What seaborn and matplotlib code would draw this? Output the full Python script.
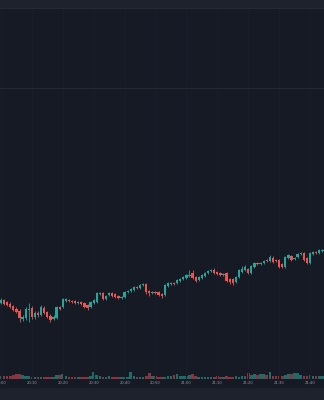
import numpy as np
import pandas as pd
import matplotlib
matplotlib.use("Agg")
import matplotlib.pyplot as plt
import seaborn as sns

# ---- data (1-minute candles from 20:00) ----
open_ = [1017,1020,1018,1016,1014,1011,1009,1001,1002,1010,
         1012,1003,1007,1005,1012,1008,1004,1001,1002,1013,
         1013,1019,1020,1019,1019,1017,1018,1017,1015,1013,
         1017,1018,1026,1027,1021,1025,1027,1026,1024,1022,
         1023,1028,1029,1030,1033,1032,1035,1036,1029,1027,
         1028,1028,1026,1025,1034,1036,1037,1037,1039,1041,
         1042,1044,1047,1043,1040,1042,1044,1047,1049,1050,
         1048,1047,1045,1047,1041,1041,1038,1043,1048,1050,
         1051,1047,1053,1057,1056,1057,1060,1059,1062,1060,
         1060,1056,1053,1062,1064,1061,1063,1066,1067,1062,
         1057,1066,1068,1067,1069]
close = [1020,1016,1015,1013,1010,1008,1002,1003,1011,1011,
         1003,1007,1005,1013,1007,1003,1000,1003,1013,1011,
         1021,1021,1019,1018,1017,1018,1016,1013,1012,1018,
         1020,1027,1027,1021,1024,1027,1024,1023,1022,1023,
         1028,1029,1031,1033,1032,1035,1036,1028,1027,1028,
         1027,1025,1024,1035,1037,1037,1036,1040,1041,1043,
         1045,1045,1042,1039,1043,1045,1047,1049,1050,1047,
         1046,1045,1046,1039,1038,1037,1043,1050,1051,1053,
         1047,1054,1057,1056,1057,1059,1059,1063,1058,1059,
         1053,1053,1063,1065,1060,1062,1066,1067,1060,1057,
         1067,1068,1067,1070,1070]
high = [1022,1021,1019,1018,1015,1013,1011,1005,1013,1017,
        1014,1009,1009,1015,1014,1009,1006,1005,1014,1014,
        1022,1022,1021,1020,1020,1019,1019,1018,1016,1019,
        1021,1028,1028,1028,1025,1028,1028,1027,1025,1024,
        1029,1030,1032,1034,1034,1036,1037,1037,1030,1029,
        1029,1029,1027,1036,1038,1038,1038,1041,1042,1044,
        1046,1050,1050,1044,1044,1046,1048,1050,1051,1052,
        1049,1048,1047,1048,1042,1042,1044,1051,1054,1055,
        1052,1055,1058,1058,1058,1060,1061,1065,1064,1061,
        1061,1057,1064,1066,1065,1063,1067,1068,1068,1063,
        1068,1069,1069,1071,1071]
low = [1016,1015,1014,1012,1009,1007,998,999,1000,998,
       1001,1001,1003,1004,1006,1002,998,1000,1001,1010,
       1012,1018,1018,1017,1016,1016,1015,1012,1010,1012,
       1016,1017,1025,1020,1020,1024,1023,1022,1021,1021,
       1022,1027,1028,1029,1031,1031,1034,1026,1024,1026,
       1026,1024,1022,1024,1033,1035,1035,1036,1038,1040,
       1041,1043,1041,1038,1039,1041,1043,1046,1048,1046,
       1045,1044,1044,1038,1036,1035,1037,1042,1047,1049,
       1046,1046,1052,1055,1055,1056,1058,1058,1057,1058,
       1052,1052,1052,1061,1059,1060,1062,1065,1059,1056,
       1056,1065,1066,1066,1068]
volume = [30,30,30,30,40,50,50,40,30,30,
          20,20,20,20,20,20,20,20,40,40,
          50,30,20,20,20,20,20,20,20,30,
          70,40,30,20,20,30,20,20,20,20,
          20,20,70,30,20,20,20,30,60,30,
          30,20,20,20,30,30,40,50,30,30,
          30,40,50,30,20,20,20,20,20,20,
          30,20,20,30,20,20,30,20,30,30,
          60,40,50,40,50,50,40,70,30,30,
          30,30,40,50,50,60,60,40,30,30,
          40,30,30,30,30]
tick_minutes = [0, 10, 20, 30, 40, 50, 60, 70, 80, 90, 100]
tick_labels = ["20:00", "20:10", "20:20", "20:30", "20:40", "20:50",
               "21:00", "21:10", "21:20", "21:30", "21:40"]
ref_line = 1232

UP = "#26a69a"
DOWN = "#ef5350"
UP_VOL = "#216a66"
DOWN_VOL = "#8a3440"
BG = "#161a25"
PANEL = "#1e222d"

sns.set_theme(style="dark", rc={"axes.facecolor": BG, "figure.facecolor": PANEL})

df = pd.DataFrame({"minute": np.arange(len(open_)), "open": open_, "close": close,
                   "high": high, "low": low, "volume": volume})
df["dir"] = np.where(df["close"] >= df["open"], "up", "down")
df["body_lo"] = df[["open", "close"]].min(axis=1)
df["body_h"] = (df["close"] - df["open"]).abs().clip(lower=0.9)
colors = df["dir"].map({"up": UP, "down": DOWN})
vcolors = df["dir"].map({"up": UP_VOL, "down": DOWN_VOL})

fig = plt.figure(figsize=(3.24, 4.0), dpi=100)
fig.patch.set_facecolor(PANEL)
bg = plt.Rectangle((0, 13 / 400), 1, 387 / 400, transform=fig.transFigure,
                   color=BG, zorder=-10)
fig.patches.append(bg)

ax = fig.add_axes([0, 13 / 400, 1, 387 / 400])
axv = ax.twinx()

# volume pane
axv.bar(df["minute"], df["volume"], width=0.85, color=vcolors, lw=0)
axv.set_ylim(-85, 3785)
axv.set_xlim(-0.32, 104.53)
axv.set_axis_off()

# price pane
for m in tick_minutes:
    ax.axvline(m, color="#191d29", lw=0.8, zorder=0)
ax.axhspan(1312, 1320, color=PANEL, lw=0, zorder=0)
ax.axhline(1312, color="#262a35", lw=0.8, zorder=0)
ax.axhline(ref_line, color="#232834", lw=0.9, zorder=0)

ax.vlines(df["minute"], df["low"], df["high"], colors=colors, lw=0.6, zorder=3)
ax.bar(df["minute"], df["body_h"], bottom=df["body_lo"], width=0.74,
       color=colors, lw=0, zorder=4)

ax.set_xlim(-0.32, 104.53)
ax.set_ylim(933, 1320)
ax.set_xticks(tick_minutes)
ax.set_xticklabels(tick_labels)
ax.tick_params(axis="x", length=0, pad=-4.3, labelsize=2.7, labelcolor="#9598a1")
ax.set_yticks([])
ax.set_xlabel("")
ax.set_ylabel("")
for s in ax.spines.values():
    s.set_visible(False)
ax.grid(False)
ax.set_zorder(axv.get_zorder() + 1)
ax.patch.set_visible(False)
axv.patch.set_visible(False)

fig.savefig("out.png", dpi=100, facecolor=fig.get_facecolor())
